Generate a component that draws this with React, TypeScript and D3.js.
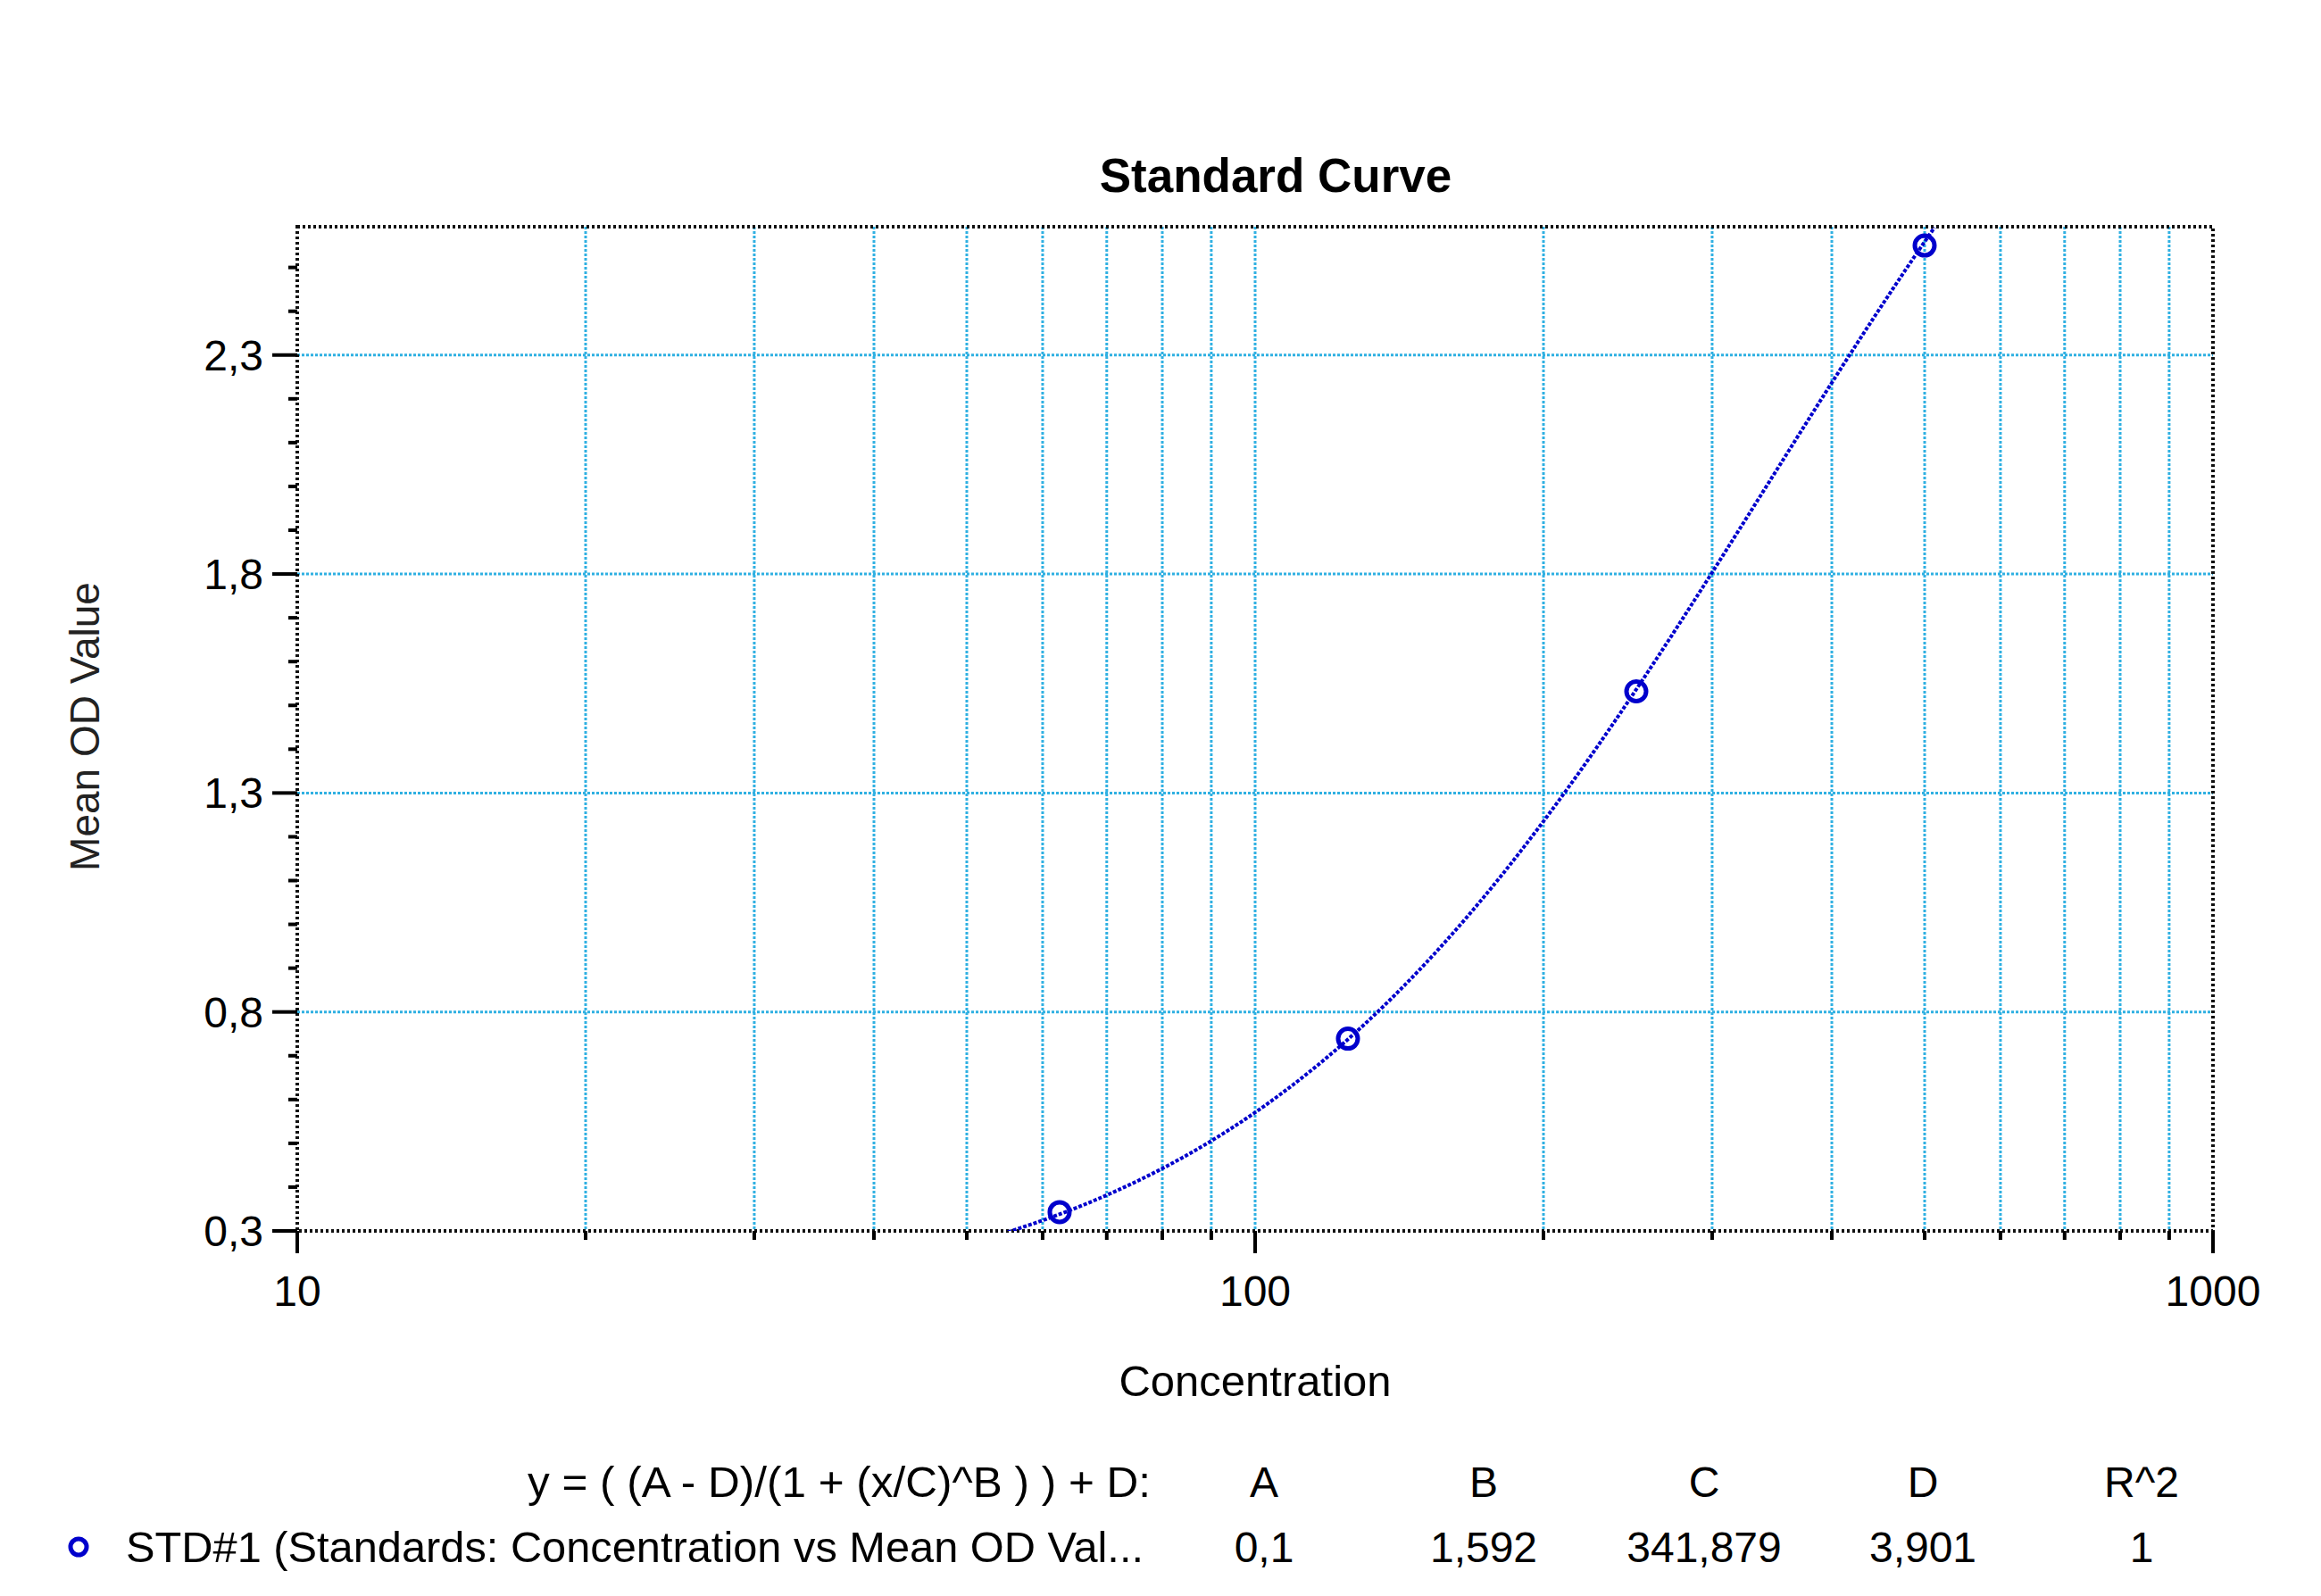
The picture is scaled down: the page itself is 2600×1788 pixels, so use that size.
import React from "react";
import * as d3 from "d3";

// ---- data ----
const concentrations = [62.5, 125, 250, 500];
const meanOD = [0.343, 0.739, 1.532, 2.55];
const paramNames = ["A", "B", "C", "D", "R^2"];
const paramValues = [0.1, 1.592, 341.879, 3.901, 1];
const yTickValues = [0.3, 0.8, 1.3, 1.8, 2.3];
const xMajorTicks = [10, 100, 1000];
const xDomain = [10, 1000];
const yDomain = [0.3, 2.593];
const curveRange = [50, 512];
const titleText = "Standard Curve";
const xAxisTitle = "Concentration";
const yAxisTitle = "Mean OD Value";
const formulaText = "y = ( (A - D)/(1 + (x/C)^B ) ) + D:";
const seriesLabel = "STD#1 (Standards: Concentration vs Mean OD Val...";

const W = 2600;
const H = 1788;
const M = { left: 333, right: 2479, top: 254, bottom: 1379 };
const FONT = "Arial, 'Liberation Sans', Helvetica, sans-serif";
const GRID = "#2fb0e2";
const BLUE = "#0000cc";
const colX = [1416, 1662, 1909, 2154, 2399];

const locale = d3.formatLocale({ decimal: ",", thousands: ".", grouping: [3], currency: ["", ""] });
const fmt1 = locale.format(".1f");
const fmtParam = (v: number) => locale.format("~g")(v);

export default function App() {
  const x = d3.scaleLog().domain(xDomain).range([M.left, M.right]);
  const y = d3.scaleLinear().domain(yDomain).range([M.bottom, M.top]);

  const [A, B, C, D] = paramValues;
  const f = (c: number) => (A - D) / (1 + Math.pow(c / C, B)) + D;

  const minorX: number[] = [];
  for (const dec of [10, 100]) for (let k = 2; k <= 9; k++) minorX.push(dec * k);

  const minorY: number[] = [];
  for (let v = 0.4; v < yDomain[1]; v += 0.1) {
    const r = Math.round(v * 10) / 10;
    if (!yTickValues.some((t) => Math.abs(t - r) < 1e-6)) minorY.push(r);
  }

  const samples = d3.range(0, 401).map((i) => {
    const l0 = Math.log10(curveRange[0]);
    const l1 = Math.log10(curveRange[1]);
    return Math.pow(10, l0 + ((l1 - l0) * i) / 400);
  });
  const line = d3
    .line<number>()
    .x((c) => x(c))
    .y((c) => y(f(c)));

  const paramLabels = paramValues.map((v) => fmtParam(v));

  return (
    <svg
      width={W}
      height={H}
      style={{ position: "absolute", left: 0, top: 0, background: "#fff" }}
      fontFamily={FONT}
    >
      <rect x={0} y={0} width={W} height={H} fill="#fff" />
      <defs>
        <clipPath id="plotClip">
          <rect x={M.left} y={M.top} width={M.right - M.left} height={M.bottom - M.top} />
        </clipPath>
      </defs>

      {/* title */}
      <text x={1429} y={215} textAnchor="middle" fontSize={53} fontWeight="bold" fill="#000">
        {titleText}
      </text>

      {/* grid */}
      {minorX.concat([100]).map((v) => (
        <line key={"gx" + v} x1={x(v)} x2={x(v)} y1={M.top} y2={M.bottom} stroke={GRID} strokeWidth={3} strokeDasharray="3 2" />
      ))}
      {yTickValues.slice(1).map((v) => (
        <line key={"gy" + v} x1={M.left} x2={M.right} y1={y(v)} y2={y(v)} stroke={GRID} strokeWidth={3} strokeDasharray="3 2" />
      ))}

      {/* frame */}
      <rect
        x={M.left}
        y={M.top}
        width={M.right - M.left}
        height={M.bottom - M.top}
        fill="none"
        stroke="#111"
        strokeWidth={4}
        strokeDasharray="3 3"
      />

      {/* y ticks */}
      {yTickValues.map((v) => (
        <g key={"yt" + v}>
          <line x1={M.left - 28} x2={M.left} y1={y(v)} y2={y(v)} stroke="#000" strokeWidth={4} />
          <text x={295} y={y(v) + 17} textAnchor="end" fontSize={48} fill="#000">
            {fmt1(v)}
          </text>
        </g>
      ))}
      {minorY.map((v) => (
        <line key={"ym" + v} x1={M.left - 10} x2={M.left} y1={y(v)} y2={y(v)} stroke="#000" strokeWidth={4} />
      ))}

      {/* x ticks */}
      {xMajorTicks.map((v) => (
        <g key={"xt" + v}>
          <line x1={x(v)} x2={x(v)} y1={M.bottom} y2={M.bottom + 25} stroke="#000" strokeWidth={4} />
          <text x={x(v)} y={1463} textAnchor="middle" fontSize={48} fill="#000">
            {String(v)}
          </text>
        </g>
      ))}
      {minorX.map((v) => (
        <line key={"xm" + v} x1={x(v)} x2={x(v)} y1={M.bottom} y2={M.bottom + 10} stroke="#000" strokeWidth={4} />
      ))}

      {/* axis titles */}
      <text x={x(100)} y={1564} textAnchor="middle" fontSize={49} fill="#000">
        {xAxisTitle}
      </text>
      <text
        transform={`translate(111, 814) rotate(-90)`}
        textAnchor="middle"
        fontSize={46}
        fill="#222"
      >
        {yAxisTitle}
      </text>

      {/* fitted curve */}
      <g clipPath="url(#plotClip)">
        <path d={line(samples) || ""} fill="none" stroke={BLUE} strokeWidth={4} strokeDasharray="4 2" />
      </g>

      {/* points */}
      {concentrations.map((c, i) => (
        <circle key={"p" + i} cx={x(c)} cy={y(meanOD[i])} r={11} fill="none" stroke={BLUE} strokeWidth={5} />
      ))}

      {/* legend / fit table */}
      <text x={1289} y={1677} textAnchor="end" fontSize={48} fill="#000" textLength={698} lengthAdjust="spacingAndGlyphs">
        {formulaText}
      </text>
      {paramNames.map((n, i) => (
        <text key={"pn" + n} x={colX[i]} y={1677} textAnchor="middle" fontSize={48} fill="#000">
          {n}
        </text>
      ))}
      <circle cx={88} cy={1733} r={9} fill="none" stroke={BLUE} strokeWidth={5} />
      <text x={141} y={1750} textAnchor="start" fontSize={48} fill="#000" textLength={1140} lengthAdjust="spacingAndGlyphs">
        {seriesLabel}
      </text>
      {paramLabels.map((s, i) => (
        <text key={"pv" + i} x={colX[i]} y={1750} textAnchor="middle" fontSize={48} fill="#000">
          {s}
        </text>
      ))}
    </svg>
  );
}
